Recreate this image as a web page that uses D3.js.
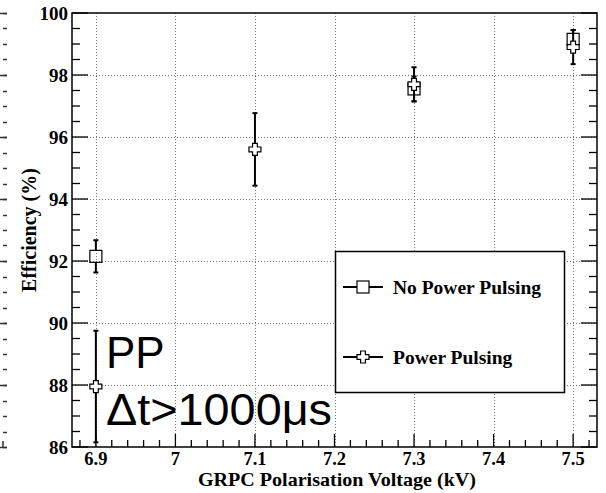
<!DOCTYPE html>
<html><head><meta charset="utf-8">
<script src="https://cdn.jsdelivr.net/npm/d3@7"></script>
<style>html,body{margin:0;padding:0;background:#fff;}</style>
</head><body>
<svg id="c" width="606" height="493"></svg>
<script>
// ---- data ----
const xMajorTicks = [6.9, 7.0, 7.1, 7.2, 7.3, 7.4, 7.5];
const xTickLabels = ["6.9", "7", "7.1", "7.2", "7.3", "7.4", "7.5"];
const yMajorTicks = [86, 88, 90, 92, 94, 96, 98, 100];
const yTickLabels = ["86", "88", "90", "92", "94", "96", "98", "100"];

const noppVoltage = [6.9, 7.3, 7.5];
const noppEff     = [92.15, 97.55, 99.15];
const noppErr     = [0.52, 0.4, 0.3];

const ppVoltage = [6.9, 7.1, 7.3, 7.5];
const ppEff     = [87.95, 95.6, 97.7, 98.9];
const ppErr     = [1.8, 1.17, 0.55, 0.55];

const legendLabels = ["No Power Pulsing", "Power Pulsing"];

// ---- layout ----
const L = 72, R = 597, T = 13, B = 447;
const svg = d3.select("#c");
const x = d3.scaleLinear().domain([6.87, 7.53]).range([L, R]);
const y = d3.scaleLinear().domain([86, 100]).range([B, T]);
const serif = "'Liberation Serif','Times New Roman',serif";
const sans = "'Liberation Sans',Arial,Helvetica,sans-serif";

const xMinor = d3.range(6.88, 7.53, 0.02).map(v => +v.toFixed(2));
const yMinor = d3.range(86, 100.01, 0.5);

// neighbouring panel's axis ticks at the far left
const side = svg.append("g").attr("stroke", "#333").attr("stroke-width", 1.5);
side.selectAll("line.mn").data(yMinor).join("line")
  .attr("x1", 3).attr("x2", 7)
  .attr("y1", d => Math.round(y(d)) + 0.5).attr("y2", d => Math.round(y(d)) + 0.5);
side.selectAll("line.mj").data(yMajorTicks).join("line")
  .attr("x1", 0).attr("x2", 7)
  .attr("y1", d => Math.round(y(d)) + 0.5).attr("y2", d => Math.round(y(d)) + 0.5);
side.append("line").attr("x1", 3).attr("x2", 3).attr("y1", B - 6).attr("y2", B);

// grid
const grid = svg.append("g").attr("stroke", "#777").attr("stroke-width", 1).attr("stroke-dasharray", "1,2");
grid.selectAll("line.v").data(xMajorTicks).join("line")
  .attr("x1", d => Math.round(x(d)) + 0.5).attr("x2", d => Math.round(x(d)) + 0.5)
  .attr("y1", T).attr("y2", B);
grid.selectAll("line.h").data(yMajorTicks.slice(1, -1)).join("line")
  .attr("y1", d => Math.round(y(d)) + 0.5).attr("y2", d => Math.round(y(d)) + 0.5)
  .attr("x1", L).attr("x2", R);

// axes ticks (ROOT style)
const ax = svg.append("g").attr("stroke", "#000").attr("stroke-width", 1.3);
ax.selectAll("line.ylm").data(yMinor).join("line")
  .attr("x1", L).attr("x2", d => yMajorTicks.includes(d) ? L + 16 : L + 8)
  .attr("y1", d => y(d)).attr("y2", d => y(d));
ax.selectAll("line.yrm").data(yMinor).join("line")
  .attr("x1", R).attr("x2", d => yMajorTicks.includes(d) ? R - 16 : R - 8)
  .attr("y1", d => y(d)).attr("y2", d => y(d));
ax.selectAll("line.xb").data(xMinor).join("line")
  .attr("x1", d => x(d)).attr("x2", d => x(d))
  .attr("y1", B).attr("y2", d => xMajorTicks.some(m => Math.abs(m - d) < 1e-6) ? B - 13 : B - 7);

// frame
svg.append("rect").attr("x", L).attr("y", T).attr("width", R - L).attr("height", B - T)
  .attr("fill", "none").attr("stroke", "#000").attr("stroke-width", 1.5);

// tick labels
svg.append("g").selectAll("text").data(yMajorTicks).join("text")
  .attr("x", L - 4).attr("y", d => y(d) + 6.5)
  .attr("text-anchor", "end").attr("font-family", serif).attr("font-weight", "bold")
  .attr("font-size", 19).text((d, i) => yTickLabels[i]);
svg.append("g").selectAll("text").data(xMajorTicks).join("text")
  .attr("x", d => x(d)).attr("y", 464.5)
  .attr("text-anchor", "middle").attr("font-family", serif).attr("font-weight", "bold")
  .attr("font-size", 18.5).text((d, i) => xTickLabels[i]);

// axis titles
svg.append("text").attr("x", 337).attr("y", 485.5).attr("text-anchor", "middle")
  .attr("font-family", serif).attr("font-weight", "bold").attr("font-size", 19.5)
  .attr("textLength", 278).attr("lengthAdjust", "spacingAndGlyphs")
  .text("GRPC Polarisation Voltage (kV)");
svg.append("text").attr("transform", "translate(36,230) rotate(-90)").attr("text-anchor", "middle")
  .attr("font-family", serif).attr("font-weight", "bold").attr("font-size", 20)
  .text("Efficiency (%)");

// markers
const S = 12;
function crossPath(s) {
  const a = s / 2, b = s / 5;
  return `M${-b},${-a}H${b}V${-b}H${a}V${b}H${b}V${a}H${-b}V${b}H${-a}V${-b}H${-b}Z`;
}
function errorBars(g, xs, ys, es) {
  const d = xs.map((v, i) => ({cx: x(v), cy: y(ys[i]), top: y(ys[i] + es[i]), bot: y(ys[i] - es[i])}));
  const eg = g.append("g").attr("stroke", "#000").attr("stroke-width", 2);
  eg.selectAll("line.u").data(d).join("line").attr("x1", p => p.cx).attr("x2", p => p.cx)
    .attr("y1", p => p.top).attr("y2", p => p.cy - S / 2);
  eg.selectAll("line.l").data(d).join("line").attr("x1", p => p.cx).attr("x2", p => p.cx)
    .attr("y1", p => p.cy + S / 2).attr("y2", p => p.bot);
  eg.selectAll("line.ct").data(d).join("line").attr("x1", p => p.cx - 2.5).attr("x2", p => p.cx + 2.5)
    .attr("y1", p => p.top).attr("y2", p => p.top);
  eg.selectAll("line.cb").data(d).join("line").attr("x1", p => p.cx - 2.5).attr("x2", p => p.cx + 2.5)
    .attr("y1", p => p.bot).attr("y2", p => p.bot);
  return d;
}
const dg = svg.append("g");
const dN = errorBars(dg, noppVoltage, noppEff, noppErr);
const dP = errorBars(dg, ppVoltage, ppEff, ppErr);
dg.selectAll("rect.sq").data(dN).join("rect")
  .attr("x", p => p.cx - S / 2).attr("y", p => p.cy - S / 2).attr("width", S).attr("height", S)
  .attr("fill", "none").attr("stroke", "#000").attr("stroke-width", 1.2);
dg.selectAll("path.cr").data(dP).join("path")
  .attr("transform", p => `translate(${p.cx},${p.cy})`).attr("d", crossPath(S))
  .attr("fill", "#fff").attr("stroke", "#000").attr("stroke-width", 1.2);

// annotation
svg.append("text").attr("x", 106).attr("y", 368).attr("font-family", sans).attr("font-size", 44).text("PP");
svg.append("text").attr("x", 106).attr("y", 425).attr("font-family", sans).attr("font-size", 44)
  .attr("textLength", 226).attr("lengthAdjust", "spacingAndGlyphs").text("Δt>1000μs");

// legend
const lg = svg.append("g");
lg.append("rect").attr("x", 335.5).attr("y", 251.5).attr("width", 229).attr("height", 141)
  .attr("fill", "#fff").attr("stroke", "#000").attr("stroke-width", 1.5);
const ly = [287, 357];
lg.selectAll("line.ll").data(ly).join("line")
  .attr("x1", 343).attr("x2", 383).attr("y1", d => d).attr("y2", d => d)
  .attr("stroke", "#000").attr("stroke-width", 2);
lg.append("rect").attr("x", 363 - S / 2).attr("y", ly[0] - S / 2).attr("width", S).attr("height", S)
  .attr("fill", "#fff").attr("stroke", "#000").attr("stroke-width", 1.2);
lg.append("path").attr("transform", `translate(363,${ly[1]})`).attr("d", crossPath(S))
  .attr("fill", "#fff").attr("stroke", "#000").attr("stroke-width", 1.2);
lg.selectAll("text").data(legendLabels).join("text")
  .attr("x", 393).attr("y", (d, i) => ly[i] + 6.5)
  .attr("font-family", serif).attr("font-weight", "bold").attr("font-size", 19.5).text(d => d);
</script>
</body></html>
